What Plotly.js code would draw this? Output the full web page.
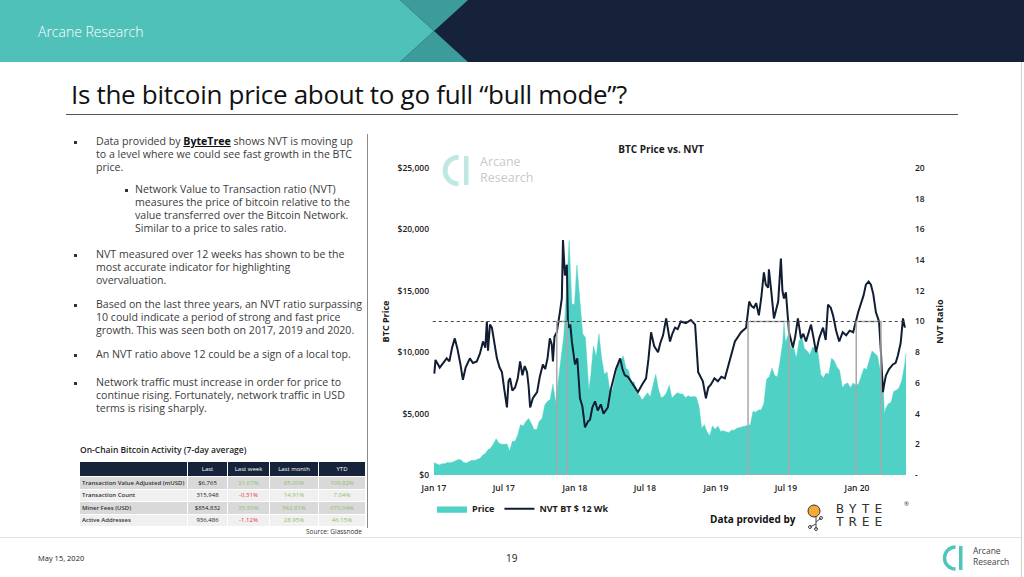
<!DOCTYPE html>
<html>
<head>
<meta charset="utf-8">
<script src="https://cdn.plot.ly/plotly-3.0.1.min.js"></script>
<style>
  html, body { margin:0; padding:0; background:#fff; }
  body { width:1024px; height:577px; position:relative; overflow:hidden; font-family:"Open Sans", sans-serif; color:#3a3a3a; }
  .abs { position:absolute; }
  .para { position:absolute; font-size:10.6px; line-height:13px; color:#3b3b3b; white-space:nowrap; }
  .bul { position:absolute; width:3px; height:3px; background:#333; }
  table.oc { border-collapse:collapse; font-size:6px; color:#222; table-layout:fixed; }
  table.oc td, table.oc th { padding:0 2px; height:11.5px; border:1px solid #fff; white-space:nowrap; overflow:hidden; }
  table.oc th { background:#17233a; color:#fff; font-weight:400; height:14px; text-align:center; }
  table.oc td.l { text-align:left; font-weight:600; color:#333; }
  table.oc td { text-align:center; }
  .g1 td { background:#d9d9d9; }
  .g2 td { background:#f0f0f0; }
  .pos { color:#8cc26a; }
  .neg { color:#e0303a; }
</style>
</head>
<body>

<!-- header band -->
<svg class="abs" style="left:0;top:0" width="1024" height="62">
  <rect x="0" y="0" width="1024" height="62" fill="#16223a"/>
  <polygon points="0,0 400,0 434,31 400,62 0,62" fill="#50c1b9"/>
  <polygon points="400,0 468,0 434,31" fill="#3c9c9c"/>
  <polygon points="400,62 468,62 434,31" fill="#3c9c9c"/>
</svg>
<div class="abs" style="left:38px;top:22px;font-size:14px;color:#fff;font-weight:300;">Arcane Research</div>
<div class="abs" style="left:1021px;top:62px;width:1px;height:515px;background:#d0d0d0;"></div>

<!-- title -->
<div class="abs" style="left:71px;top:76px;font-size:26px;color:#111;font-weight:500;letter-spacing:-0.3px;">Is the bitcoin price about to go full “bull mode”?</div>
<div class="abs" style="left:66px;top:114px;width:892px;height:1px;background:#555;"></div>

<!-- left text -->
<div class="bul" style="left:74px;top:141px"></div>
<div class="para" style="left:96px;top:135px">Data provided by <b style="text-decoration:underline;color:#111">ByteTree</b> shows NVT is moving up<br>to a level where we could see fast growth in the BTC<br>price.</div>
<div class="bul" style="left:125px;top:189px"></div>
<div class="para" style="left:135px;top:183px">Network Value to Transaction ratio (NVT)<br>measures the price of bitcoin relative to the<br>value transferred over the Bitcoin Network.<br>Similar to a price to sales ratio.</div>
<div class="bul" style="left:74px;top:254px"></div>
<div class="para" style="left:96px;top:248px">NVT measured over 12 weeks has shown to be the<br>most accurate indicator for highlighting<br>overvaluation.</div>
<div class="bul" style="left:74px;top:304px"></div>
<div class="para" style="left:96px;top:298px">Based on the last three years, an NVT ratio surpassing<br>10 could indicate a period of strong and fast price<br>growth. This was seen both on 2017, 2019 and 2020.</div>
<div class="bul" style="left:74px;top:354px"></div>
<div class="para" style="left:96px;top:348px">An NVT ratio above 12 could be a sign of a local top.</div>
<div class="bul" style="left:74px;top:382px"></div>
<div class="para" style="left:96px;top:376px">Network traffic must increase in order for price to<br>continue rising. Fortunately, network traffic in USD<br>terms is rising sharply.</div>

<!-- table -->
<div class="abs" style="left:80px;top:444px;font-size:8.5px;font-weight:600;color:#222;">On-Chain Bitcoin Activity (7-day average)</div>
<table class="oc abs" style="left:79px;top:461px;width:286px;">
  <colgroup><col style="width:108px"><col style="width:40px"><col style="width:42px"><col style="width:49px"><col style="width:47px"></colgroup>
  <tr><th></th><th>Last</th><th>Last week</th><th>Last month</th><th>YTD</th></tr>
  <tr class="g1"><td class="l">Transaction Value Adjusted (mUSD)</td><td>$6,765</td><td class="pos">21.67%</td><td class="pos">85.00%</td><td class="pos">109.82%</td></tr>
  <tr class="g2"><td class="l">Transaction Count</td><td>315,948</td><td class="neg">-0.31%</td><td class="pos">14.91%</td><td class="pos">7.04%</td></tr>
  <tr class="g1"><td class="l">Miner Fees (USD)</td><td>$854,832</td><td class="pos">35.93%</td><td class="pos">542.81%</td><td class="pos">670.04%</td></tr>
  <tr class="g2"><td class="l">Active Addresses</td><td>936,486</td><td class="neg">-1.12%</td><td class="pos">28.95%</td><td class="pos">46.15%</td></tr>
</table>
<div class="abs" style="left:300px;top:527px;width:62px;text-align:right;font-size:6.5px;color:#333;white-space:nowrap;">Source: Glassnode</div>

<!-- separator -->
<div class="abs" style="left:367px;top:134px;width:1px;height:394px;background:#8a8a8a;"></div>
<div class="abs" style="left:0px;top:537px;width:1021px;height:1px;background:#e2e2e2;"></div>

<!-- chart -->
<div id="chart" class="abs" style="left:370px;top:135px;width:600px;height:400px;"></div>

<!-- watermark logo in chart -->
<svg class="abs" style="left:438px;top:153px;pointer-events:none" width="40" height="36">
  <path d="M 20.5 4.2 A 13 13 0 1 0 20.5 30.8" fill="none" stroke="#bfe8e4" stroke-width="5"/>
  <rect x="26" y="3" width="4.5" height="29" fill="#bfe8e4"/>
</svg>
<div class="abs" style="left:480px;top:155px;font-size:12.5px;line-height:13px;color:#c9c9c9;">Arcane</div>
<div class="abs" style="left:480px;top:171px;font-size:12.5px;line-height:13px;color:#c9c9c9;">Research</div>

<!-- data provided by -->
<div class="abs" style="left:710px;top:512px;font-size:10px;font-weight:700;color:#111;">Data provided by</div>
<svg class="abs" style="left:806px;top:502px" width="20" height="30">
  <line x1="10" y1="14" x2="10" y2="27" stroke="#444" stroke-width="1"/>
  <line x1="10" y1="20" x2="15" y2="16" stroke="#444" stroke-width="1"/>
  <line x1="10" y1="22" x2="4" y2="25" stroke="#444" stroke-width="1"/>
  <circle cx="15" cy="16" r="1.5" fill="none" stroke="#444"/>
  <circle cx="4" cy="25" r="1.5" fill="none" stroke="#444"/>
  <circle cx="10" cy="27" r="1.5" fill="none" stroke="#444"/>
  <circle cx="8" cy="9" r="6" fill="#f6a93b" stroke="#333" stroke-width="1"/>
</svg>
<div class="abs" style="left:836px;top:503px;font-family:'DejaVu Sans Mono',monospace;font-size:13px;line-height:12px;letter-spacing:5px;color:#333;">BYTE</div>
<div class="abs" style="left:836px;top:516px;font-family:'DejaVu Sans Mono',monospace;font-size:13px;line-height:12px;letter-spacing:5px;color:#333;">TREE</div>
<div class="abs" style="left:904px;top:500px;font-size:6px;color:#333;">®</div>

<!-- footer -->
<div class="abs" style="left:38px;top:553px;font-size:7.5px;color:#222;">May 15, 2020</div>
<div class="abs" style="left:506px;top:551px;font-size:10px;color:#222;">19</div>
<svg class="abs" style="left:942px;top:543px" width="28" height="30">
  <path d="M 13.5 4 A 11 11 0 1 0 13.5 26" fill="none" stroke="#4fc6bc" stroke-width="3.5"/>
  <rect x="17" y="3" width="3.5" height="24" fill="#4fc6bc"/>
</svg>
<div class="abs" style="left:973px;top:545px;font-size:8.5px;line-height:11px;color:#444;">Arcane<br>Research</div>

<script>
// ---- data ----
const priceDates = [
 '2017-01-01','2017-01-08','2017-01-15','2017-01-22','2017-01-29','2017-02-05','2017-02-12','2017-02-19','2017-02-26',
 '2017-03-05','2017-03-12','2017-03-19','2017-03-26','2017-04-02','2017-04-09','2017-04-16','2017-04-23','2017-04-30',
 '2017-05-07','2017-05-14','2017-05-21','2017-05-28','2017-06-04','2017-06-11','2017-06-18','2017-06-25','2017-07-02',
 '2017-07-09','2017-07-16','2017-07-23','2017-07-30','2017-08-06','2017-08-13','2017-08-20','2017-08-27','2017-09-03',
 '2017-09-10','2017-09-17','2017-09-24','2017-10-01','2017-10-08','2017-10-15','2017-10-22','2017-10-29','2017-11-05',
 '2017-11-12','2017-11-19','2017-11-26','2017-12-03','2017-12-10','2017-12-17','2017-12-24','2017-12-31','2018-01-06',
 '2018-01-14','2018-01-21','2018-01-28','2018-02-04','2018-02-06','2018-02-11','2018-02-18','2018-02-25','2018-03-04',
 '2018-03-11','2018-03-18','2018-03-25','2018-04-01','2018-04-08','2018-04-15','2018-04-22','2018-04-29','2018-05-06',
 '2018-05-13','2018-05-20','2018-05-27','2018-06-03','2018-06-10','2018-06-17','2018-06-24','2018-07-01','2018-07-08',
 '2018-07-15','2018-07-22','2018-07-29','2018-08-05','2018-08-12','2018-08-19','2018-08-26','2018-09-02','2018-09-09',
 '2018-09-16','2018-09-23','2018-09-30','2018-10-07','2018-10-14','2018-10-21','2018-10-28','2018-11-04','2018-11-11',
 '2018-11-18','2018-11-25','2018-12-02','2018-12-09','2018-12-16','2018-12-23','2018-12-30','2019-01-06','2019-01-13',
 '2019-01-20','2019-01-27','2019-02-03','2019-02-10','2019-02-17','2019-02-24','2019-03-03','2019-03-10','2019-03-17',
 '2019-03-24','2019-03-31','2019-04-07','2019-04-14','2019-04-21','2019-04-28','2019-05-05','2019-05-12','2019-05-19',
 '2019-05-26','2019-06-02','2019-06-09','2019-06-16','2019-06-23','2019-06-26','2019-06-30','2019-07-07','2019-07-14',
 '2019-07-21','2019-07-28','2019-08-04','2019-08-11','2019-08-18','2019-08-25','2019-09-01','2019-09-08','2019-09-15',
 '2019-09-22','2019-09-29','2019-10-06','2019-10-13','2019-10-20','2019-10-27','2019-11-03','2019-11-10','2019-11-17',
 '2019-11-24','2019-12-01','2019-12-08','2019-12-15','2019-12-22','2019-12-29','2020-01-05','2020-01-12','2020-01-19',
 '2020-01-26','2020-02-02','2020-02-09','2020-02-16','2020-02-23','2020-03-01','2020-03-08','2020-03-12','2020-03-15',
 '2020-03-22','2020-03-29','2020-04-05','2020-04-12','2020-04-19','2020-04-26','2020-05-03','2020-05-07'];
const priceValues = [
 1000,910,820,920,920,1020,1000,1050,1180,
 1270,1230,1020,970,1090,1200,1180,1250,1350,
 1600,1750,2050,2200,2520,2950,2600,2500,2500,
 2520,1950,2750,2750,3250,4100,4000,4350,4600,
 4200,3700,3700,4400,4600,5700,6000,6150,7400,
 5900,7700,9300,11300,15000,19100,13900,13900,17100,
 13800,11500,11200,8200,6900,8100,10500,9600,11500,
 9500,8200,8400,6900,6900,8000,8900,9300,9700,
 8700,8500,7400,7600,6700,6500,6100,6400,6700,
 6350,7400,8200,7000,6300,6400,6700,7300,6250,
 6500,6700,6600,6600,6300,6450,6350,6400,6350,
 5600,3800,4100,3500,3200,4000,3700,4000,3550,
 3600,3550,3450,3650,3650,3800,3850,3900,4000,
 4000,4100,5200,5100,5300,5300,5800,7800,8000,
 8700,8100,8000,9300,10800,12400,10800,11400,10300,
 10400,9500,10900,11300,10300,10100,9800,10400,10300,
 10000,8200,7900,8300,8200,9500,9300,8800,8500,
 7100,7400,7500,7100,7500,7300,7400,8100,8700,
 8600,9300,10100,9900,9700,8500,8000,4900,5400,
 5800,5900,6800,6900,7100,7700,8900,9900];

const nvtDates = [
 '2017-01-02','2017-01-05','2017-01-16','2017-01-24','2017-02-03','2017-02-10','2017-02-17','2017-02-24','2017-03-03',
 '2017-03-10','2017-03-17','2017-03-24','2017-04-04','2017-04-12','2017-04-22','2017-04-30','2017-05-08','2017-05-14',
 '2017-05-18','2017-05-21','2017-05-26','2017-05-31','2017-06-06','2017-06-13','2017-06-20','2017-06-26','2017-07-02',
 '2017-07-09','2017-07-13','2017-07-17','2017-07-23','2017-07-30','2017-08-06','2017-08-12','2017-08-18','2017-08-24',
 '2017-08-30','2017-09-03','2017-09-07','2017-09-14','2017-09-25','2017-10-02','2017-10-10','2017-10-16','2017-10-22',
 '2017-10-28','2017-11-02','2017-11-05','2017-11-09','2017-11-15','2017-11-23','2017-11-28','2017-12-01','2017-12-04',
 '2017-12-06','2017-12-11','2017-12-14','2017-12-20','2017-12-24','2018-01-01','2018-01-07','2018-01-14','2018-01-20',
 '2018-01-27','2018-02-04','2018-02-09','2018-02-15','2018-02-22','2018-03-01','2018-03-09','2018-03-16','2018-03-27',
 '2018-04-03','2018-04-09','2018-04-17','2018-04-28','2018-05-04','2018-05-10','2018-05-18','2018-05-26','2018-06-03',
 '2018-06-13','2018-06-24','2018-07-04','2018-07-10','2018-07-17','2018-07-25','2018-08-04','2018-08-10','2018-08-17',
 '2018-08-25','2018-09-04','2018-09-10','2018-09-17','2018-09-24','2018-10-02','2018-10-15','2018-10-28','2018-11-08',
 '2018-11-12','2018-11-16','2018-11-22','2018-11-28','2018-12-06','2018-12-12','2018-12-19','2018-12-28','2019-01-06',
 '2019-01-15','2019-01-24','2019-02-06','2019-02-19','2019-03-07','2019-03-20','2019-03-28','2019-04-03','2019-04-09',
 '2019-04-15','2019-04-22','2019-04-28','2019-05-05','2019-05-10','2019-05-16','2019-05-18','2019-05-24','2019-05-31',
 '2019-06-06','2019-06-11','2019-06-18','2019-06-22','2019-06-26','2019-07-01','2019-07-09','2019-07-19','2019-07-25',
 '2019-08-01','2019-08-09','2019-08-15','2019-08-22','2019-08-28','2019-09-04','2019-09-10','2019-09-17','2019-09-25',
 '2019-10-05','2019-10-12','2019-10-18','2019-10-25','2019-10-31','2019-11-08','2019-11-16','2019-11-25','2019-12-04',
 '2019-12-13','2019-12-22','2020-01-04','2020-01-11','2020-01-18','2020-01-24','2020-01-31','2020-02-06','2020-02-12',
 '2020-02-19','2020-02-27','2020-03-03','2020-03-08','2020-03-12','2020-03-16','2020-03-24','2020-04-03','2020-04-10',
 '2020-04-16','2020-04-23','2020-04-29','2020-05-04'];
const nvtValues = [
 6.6,7.5,7.0,7.3,7.6,7.4,8.3,8.9,8.2,
 7.3,6.2,7.0,7.6,7.3,7.4,7.9,8.7,8.3,
 10.0,8.1,9.8,9.6,8.6,7.6,7.0,6.7,5.6,
 4.4,6.1,6.3,5.5,5.7,6.3,7.4,6.5,7.1,
 6.7,5.8,4.4,5.0,5.4,6.4,7.2,6.9,7.6,
 8.9,8.5,7.4,9.0,9.3,10.6,11.5,15.3,14.0,
 13.0,13.7,9.6,9.8,8.7,7.2,7.6,5.0,4.5,
 3.1,3.5,3.6,4.4,4.8,4.2,4.6,4.0,4.4,
 5.5,6.1,6.9,7.6,6.9,6.5,6.4,6.1,5.8,
 5.4,5.9,6.3,7.5,9.3,8.4,8.0,8.6,9.1,
 10.2,8.7,9.2,9.6,9.5,10.0,9.9,10.1,9.8,
 8.0,6.7,6.4,6.1,5.0,5.7,5.9,6.3,6.1,
 6.4,6.3,7.6,8.7,9.3,9.6,11.3,11.0,10.9,
 11.2,10.4,11.5,13.2,12.4,12.2,13.4,12.0,10.2,
 10.8,11.3,14.1,12.0,11.5,11.9,9.3,8.3,9.0,
 10.2,8.9,9.2,8.7,9.3,9.8,9.0,8.0,8.9,
 9.6,8.8,11.1,10.9,10.4,9.4,8.7,9.3,9.1,
 9.4,9.3,10.6,11.1,11.7,12.4,12.6,12.4,11.8,
 10.6,10.0,8.0,5.4,6.0,6.5,6.9,7.2,7.3,
 7.8,8.6,10.2,9.6];

// periods where NVT rose above the threshold (grey boxes)
const periodStart = ['2017-11-15','2019-03-25','2019-12-30'];
const periodEnd   = ['2017-12-12','2019-07-09','2020-03-03'];
const nvtThreshold = 10;

const priceTicks = [0,5000,10000,15000,20000,25000];
const priceTickText = ['$0','$5,000','$10,000','$15,000','$20,000','$25,000'];
const nvtTicks = [0,2,4,6,8,10,12,14,16,18,20];
const nvtTickText = ['-','2','4','6','8','10','12','14','16','18','20'];

// ---- chart ----
const FONT = 'Open Sans, sans-serif';
const traces = [
  { x: priceDates, y: priceValues, type:'scatter', mode:'lines', name:'Price',
    fill:'tozeroy', fillcolor:'#50d1c6', line:{color:'#50d1c6', width:0.5}, hoverinfo:'skip' },
  { x: nvtDates, y: nvtValues, type:'scatter', mode:'lines', name:'NVT BT $ 12 Wk', yaxis:'y2',
    line:{color:'#111d33', width:2}, hoverinfo:'skip' }
];

const shapes = periodStart.map((s,i) => ({
  type:'rect', xref:'x', yref:'y2', x0:s, x1:periodEnd[i], y0:0, y1:nvtThreshold,
  line:{color:'#a8a8a8', width:1.5}, fillcolor:'rgba(0,0,0,0)', layer:'above'
}));
shapes.push({ type:'line', xref:'x', yref:'y2', x0:'2016-12-29', x1:'2020-05-07', y0:nvtThreshold, y1:nvtThreshold,
  line:{color:'#444', width:1, dash:'dot'}, layer:'above' });

const layout = {
  width:600, height:400,
  margin:{l:62, r:62, t:33, b:60},
  paper_bgcolor:'rgba(0,0,0,0)', plot_bgcolor:'rgba(0,0,0,0)',
  font:{family:FONT, color:'#222'},
  title:{ text:'BTC Price vs. NVT', font:{size:10, weight:700, color:'#1a1a1a'},
    xref:'container', x:0.485, xanchor:'center', yref:'container', y:0.965, yanchor:'middle' },
  showlegend:true,
  legend:{ orientation:'h', x:0.0, xanchor:'left', y:-0.11, yanchor:'middle',
    font:{size:9, weight:700, color:'#1a1a1a'}, bgcolor:'rgba(0,0,0,0)', itemwidth:30 },
  xaxis:{ type:'date', range:['2016-12-27','2020-05-12'], tickformat:'%b %y', dtick:'M6', tick0:'2017-01-01',
    showgrid:false, zeroline:false, showline:false, ticks:'', ticklabelstandoff:6,
    tickfont:{size:8.5, weight:600, color:'#222'} },
  yaxis:{ range:[0,25000], tickvals:priceTicks, ticktext:priceTickText,
    showgrid:false, zeroline:false, showline:false, ticks:'', ticklabelstandoff:2,
    tickfont:{size:8.5, weight:600, color:'#222'},
    title:{ text:'BTC Price', font:{size:9, weight:700, color:'#1a1a1a'}, standoff:6 } },
  yaxis2:{ overlaying:'y', side:'right', range:[0,20], tickvals:nvtTicks, ticktext:nvtTickText,
    showgrid:false, zeroline:false, showline:false, ticks:'', ticklabelstandoff:6,
    tickfont:{size:8.5, weight:600, color:'#222'},
    title:{ text:'NVT Ratio', font:{size:9, weight:700, color:'#1a1a1a'}, standoff:12 } },
  shapes: shapes
};
Plotly.newPlot('chart', traces, layout, {displayModeBar:false, staticPlot:true});
</script>
</body>
</html>
